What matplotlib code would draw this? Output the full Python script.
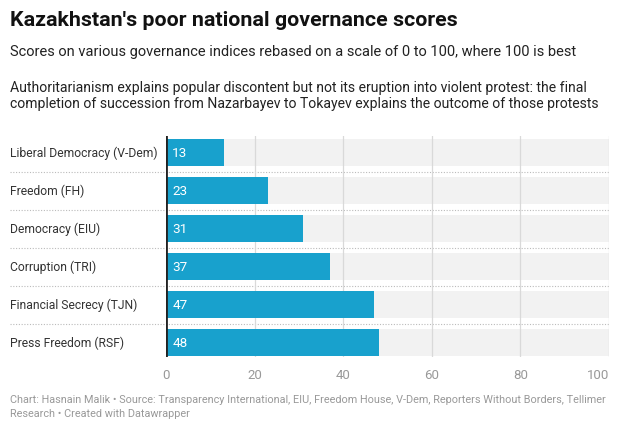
import matplotlib
matplotlib.use("Agg")
import matplotlib.pyplot as plt
import matplotlib.transforms as mtransforms

categories = ["Liberal Democracy (V-Dem)", "Freedom (FH)", "Democracy (EIU)",
              "Corruption (TRI)", "Financial Secrecy (TJN)", "Press Freedom (RSF)"]
values = [13, 23, 31, 37, 47, 48]
xticks = [0, 20, 40, 60, 80, 100]

plt.rcParams['font.family'] = ['Roboto', 'DejaVu Sans']

W, H = 620, 431
fig = plt.figure(figsize=(W / 100, H / 100), dpi=100)

def fy(py):
    return 1 - py / H

ax_left, ax_right = 166 / W, 609 / W
ax_top, ax_bot = 137, 358
ax = fig.add_axes([ax_left, fy(ax_bot), ax_right - ax_left, (ax_bot - ax_top) / H])

n = len(categories)
ys = list(range(n))
bar_h = 27 / 38
ax.set_xlim(0, 100)
ax.set_ylim(n - 1 + 14.5 / 38, -16.5 / 38)

# background bands
ax.barh(ys, [100] * n, height=bar_h, color="#f2f2f2", zorder=1)
# grid lines
for t in xticks[1:]:
    ax.axvline(t, color="#d9d9d9", lw=0.9, zorder=2)
ax.barh(ys, values, height=bar_h, color="#18a1cd", zorder=3)
ax.axvline(0, color="#222222", lw=2, zorder=4)

for y, v in zip(ys, values):
    ax.annotate(str(v), (0, y), xytext=(4.5, 0), textcoords="offset points",
                va="center", ha="left", color="white", fontsize=9.7, zorder=5)

# row labels and separators
trans = mtransforms.blended_transform_factory(ax.transAxes, ax.transData)
lab_x = (10 - 166) / (609 - 166)
for y, c in zip(ys, categories):
    ax.text(lab_x, y, c, transform=trans, va="center", ha="left",
            fontsize=8.7, color="#333333")
for y in ys[:-1]:
    ax.plot([lab_x, 1], [y + 0.5, y + 0.5], transform=trans, clip_on=False,
            color="#bbbbbb", lw=0.8, ls=(0, (1, 1.5)), zorder=0)

ax.set_yticks([])
ax.set_xticks(xticks)
ax.set_xticklabels([str(t) for t in xticks], color="#999999", fontsize=9.5)
ax.get_xticklabels()[-1].set_horizontalalignment("right")
ax.tick_params(axis="x", length=0, pad=8)
for s in ax.spines.values():
    s.set_visible(False)

fig.text(10 / W, fy(20), "Kazakhstan's poor national governance scores",
         fontsize=15.4, fontweight="bold", va="center", ha="left", color="#111111")
fig.text(10 / W, fy(52), "Scores on various governance indices rebased on a scale of 0 to 100, where 100 is best",
         fontsize=10.5, va="center", ha="left", color="#222222")
fig.text(10 / W, fy(88), "Authoritarianism explains popular discontent but not its eruption into violent protest: the final",
         fontsize=10.05, va="center", ha="left", color="#222222")
fig.text(10 / W, fy(104), "completion of succession from Nazarbayev to Tokayev explains the outcome of those protests",
         fontsize=10.05, va="center", ha="left", color="#222222")
fig.text(10 / W, fy(400), "Chart: Hasnain Malik \u2022 Source: Transparency International, EIU, Freedom House, V-Dem, Reporters Without Borders, Tellimer",
         fontsize=7.8, va="center", ha="left", color="#999999")
fig.text(10 / W, fy(414), "Research \u2022 Created with Datawrapper",
         fontsize=7.8, va="center", ha="left", color="#999999")

fig.savefig("out.png", dpi=100, facecolor="white")
